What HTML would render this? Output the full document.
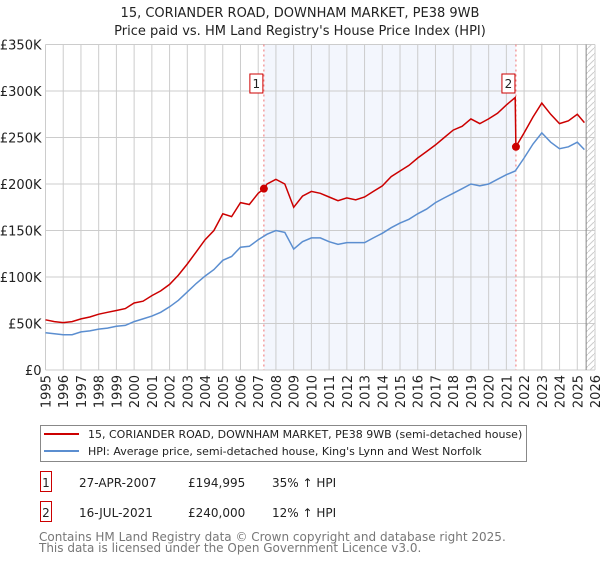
<!DOCTYPE html>
<html><head><meta charset="utf-8"><style>
body{margin:0;background:#fff;font-family:"Liberation Sans","DejaVu Sans",sans-serif;}
#wrap{position:relative;width:600px;height:560px;}
svg text{font-family:"DejaVu Sans","Liberation Sans",sans-serif;}
</style></head><body>
<div id="wrap">
<svg id="chart" width="600" height="560"></svg>
</div>
<script>
const hpiYears=[1995,1995.5,1996,1996.5,1997,1997.5,1998,1998.5,1999,1999.5,2000,2000.5,2001,2001.5,2002,2002.5,2003,2003.5,2004,2004.5,2005,2005.5,2006,2006.5,2007,2007.5,2008,2008.5,2009,2009.5,2010,2010.5,2011,2011.5,2012,2012.5,2013,2013.5,2014,2014.5,2015,2015.5,2016,2016.5,2017,2017.5,2018,2018.5,2019,2019.5,2020,2020.5,2021,2021.5,2022,2022.5,2023,2023.5,2024,2024.5,2025,2025.4];
const hpiValues=[40,39,38,38,41,42,44,45,47,48,52,55,58,62,68,75,84,93,101,108,118,122,132,133,140,146,150,148,130,138,142,142,138,135,137,137,137,142,147,153,158,162,168,173,180,185,190,195,200,198,200,205,210,214,228,243,255,245,238,240,245,237];
const priceYears=[1995,1995.5,1996,1996.5,1997,1997.5,1998,1998.5,1999,1999.5,2000,2000.5,2001,2001.5,2002,2002.5,2003,2003.5,2004,2004.5,2005,2005.5,2006,2006.5,2007,2007.32,2007.5,2008,2008.5,2009,2009.5,2010,2010.5,2011,2011.5,2012,2012.5,2013,2013.5,2014,2014.5,2015,2015.5,2016,2016.5,2017,2017.5,2018,2018.5,2019,2019.5,2020,2020.5,2021,2021.5,2021.54,2022,2022.5,2023,2023.5,2024,2024.5,2025,2025.4];
const priceValues=[54,52,51,52,55,57,60,62,64,66,72,74,80,85,92,102,114,127,140,150,168,165,180,178,190,195,200,205,200,175,187,192,190,186,182,185,183,186,192,198,208,214,220,228,235,242,250,258,262,270,265,270,276,285,293,240,255,272,287,275,265,268,275,266];
const saleYears=[2007.32,2021.54];
const saleValues=[195,240];
const saleLabels=["1","2"];
const yTicks=[0,50,100,150,200,250,300,350];
const yTickLabels=["£0","£50K","£100K","£150K","£200K","£250K","£300K","£350K"];
const xTicks=[1995,1996,1997,1998,1999,2000,2001,2002,2003,2004,2005,2006,2007,2008,2009,2010,2011,2012,2013,2014,2015,2016,2017,2018,2019,2020,2021,2022,2023,2024,2025,2026];

const L=45.5,R=595,T=44.5,B=370;
const xS=v=>L+(v-1995)/31*(R-L);
const yS=v=>B-v/350*(B-T);
const NS="http://www.w3.org/2000/svg";
const svg=document.getElementById('chart');
function mk(tag,attrs,parent){const e=document.createElementNS(NS,tag);for(const k in attrs)e.setAttribute(k,attrs[k]);(parent||svg).appendChild(e);return e;}

let t=mk('text',{x:300,y:17,'text-anchor':'middle','font-size':13,fill:'#222'});t.textContent="15, CORIANDER ROAD, DOWNHAM MARKET, PE38 9WB";


t=mk('text',{x:300,y:35,'text-anchor':'middle','font-size':13,fill:'#222'});t.textContent="Price paid vs. HM Land Registry's House Price Index (HPI)";



let sh=mk('rect',{x:xS(saleYears[0]),y:T,width:xS(saleYears[1])-xS(saleYears[0]),height:B-T,fill:'#eef2fc',opacity:0.7});


const defs=mk('defs',{});
const pat=mk('pattern',{id:'hatch',width:6,height:6,patternUnits:'userSpaceOnUse'},defs);
mk('path',{d:'M0,6 L6,0',stroke:'#ccc','stroke-width':1},pat);
let hz=mk('rect',{x:xS(2025.5),y:T,width:R-xS(2025.5),height:B-T,fill:'url(#hatch)'});



yTicks.forEach((v,i)=>{
  const g=mk('line',{x1:L,x2:R,y1:yS(v),y2:yS(v),stroke:'#ccc','stroke-width':1});
  
  
  const tx=mk('text',{x:L-4,y:yS(v)+5,'text-anchor':'end','font-size':13,fill:'#222'});tx.textContent=yTickLabels[i];
  
  
});
xTicks.forEach(v=>{
  const g=mk('line',{x1:xS(v),x2:xS(v),y1:T,y2:B,stroke:'#ccc','stroke-width':1});
  
  
  const tx=mk('text',{x:0,y:0,'text-anchor':'end','font-size':13,fill:'#222',transform:`translate(${xS(v)+5},${B+5}) rotate(-90)`});tx.textContent=v;
  
  
});
let ln=mk('line',{x1:xS(2025.5),x2:xS(2025.5),y1:T,y2:B,stroke:'#888','stroke-width':1});



saleYears.forEach((v,i)=>{
  const l=mk('line',{x1:xS(v),x2:xS(v),y1:T,y2:B,stroke:'#f07070','stroke-width':1,'stroke-dasharray':'2,3'});
  
  
});

function path(xs,ys){return xs.map((x,i)=>(i?'L':'M')+xS(x).toFixed(1)+','+yS(ys[i]).toFixed(1)).join(' ');}
let hp=mk('path',{d:path(hpiYears,hpiValues),fill:'none',stroke:'#5b8ed0','stroke-width':1.5});


let pp=mk('path',{d:path(priceYears,priceValues),fill:'none',stroke:'#cc0000','stroke-width':1.5});



saleYears.forEach((v,i)=>{
  const c=mk('circle',{cx:xS(v),cy:yS(saleValues[i]),r:4,fill:'#cc0000'});
  
  
  const bx=mk('rect',{x:xS(v)-14,y:74,width:13,height:19,fill:'#fff',stroke:'#cc0000','stroke-width':1});
  
  
  const tx=mk('text',{x:xS(v)-7.5,y:88,'text-anchor':'middle','font-size':12,fill:'#222'});tx.textContent=saleLabels[i];
  
  
});

let lg=mk('rect',{x:40.5,y:425.5,width:486,height:36,fill:'#fff',stroke:'#888','stroke-width':1});


mk('line',{x1:44,x2:79,y1:434,y2:434,stroke:'#cc0000','stroke-width':2});
mk('line',{x1:44,x2:79,y1:451,y2:451,stroke:'#5b8ed0','stroke-width':2});
t=mk('text',{x:88,y:438,'font-size':11,fill:'#222'});t.textContent="15, CORIANDER ROAD, DOWNHAM MARKET, PE38 9WB (semi-detached house)";


t=mk('text',{x:88,y:455,'font-size':11,fill:'#222'});t.textContent="HPI: Average price, semi-detached house, King's Lynn and West Norfolk";



const rows=[["1","27-APR-2007","£194,995","35% ↑ HPI",483],["2","16-JUL-2021","£240,000","12% ↑ HPI",513]];
rows.forEach(r=>{
  const b=mk('rect',{x:40.5,y:r[4]-11.5,width:11,height:20,fill:'none',stroke:'#cc0000','stroke-width':1});
  
  
  [[46,r[0],'middle'],[79,r[1],'start'],[188,r[2],'start'],[272,r[3],'start']].forEach(c=>{
    const tx=mk('text',{x:c[0],y:r[4]+4,'text-anchor':c[2],'font-size':12,fill:'#222'});tx.textContent=c[1];
    
    
  });
});
t=mk('text',{x:39,y:541,'font-size':12,fill:'#777'});t.textContent="Contains HM Land Registry data © Crown copyright and database right 2025.";


t=mk('text',{x:39,y:552,'font-size':12,fill:'#777'});t.textContent="This data is licensed under the Open Government Licence v3.0.";


</script>
</body></html>
